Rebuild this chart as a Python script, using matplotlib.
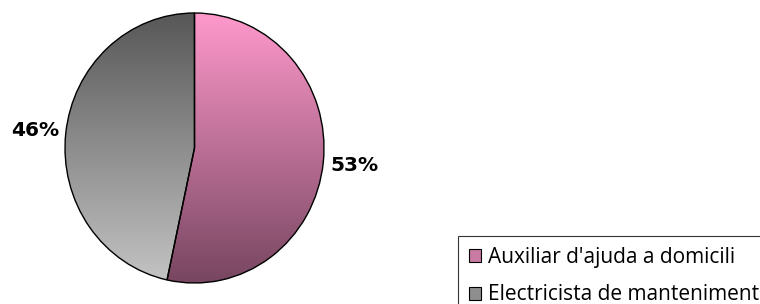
import numpy as np
import matplotlib
matplotlib.use("Agg")
import matplotlib.pyplot as plt
from matplotlib.patches import Patch
from matplotlib.colors import LinearSegmentedColormap

# data
categories = ["Auxiliar d'ajuda a domicili", "Electricista de manteniment"]
values = [53.4, 46.6]
pct_labels = ["53%", "46%"]

# vertical gradients (top colour, bottom colour)
gradients = [("#ff99cc", "#774660"), ("#575757", "#c4c4c4")]
legend_colors = ["#c97aa2", "#8e8e8e"]

W, H = 760, 304
fig = plt.figure(figsize=(W / 100, H / 100), dpi=100)
fig.patch.set_facecolor("white")

# pie box in pixels: x 65..324, y 13..283
ax = fig.add_axes([65 / W, 1 - 283 / H, 259 / W, 270 / H])

wedges, texts = ax.pie(values, startangle=90, counterclock=False,
                       wedgeprops=dict(edgecolor="black", linewidth=1.0, facecolor="none"),
                       labeldistance=None)
ax.set_aspect("auto")
ax.set_xlim(-1, 1)
ax.set_ylim(-1, 1)
ax.axis("off")

grad = np.linspace(0, 1, 256).reshape(-1, 1)
for w, (top, bottom) in zip(wedges, gradients):
    cmap = LinearSegmentedColormap.from_list("g", [top, bottom])
    im = ax.imshow(grad, cmap=cmap, extent=(-1, 1, -1, 1), aspect="auto",
                   origin="upper", zorder=0.5)
    im.set_clip_path(w)
for w in wedges:
    w.set_zorder(2)

# percentage labels placed at wedge mid angles
theta = 90.0
total = sum(values)
for v, lab in zip(values, pct_labels):
    mid = np.deg2rad(theta - 360 * v / total / 2)
    theta -= 360 * v / total
    ax.text(1.24 * np.cos(mid), 1.24 * np.sin(mid), lab, ha="center", va="center",
            fontsize=14.5, fontweight="bold", family="DejaVu Sans", clip_on=False)

handles = [Patch(facecolor=c, edgecolor="black", linewidth=0.8) for c in legend_colors]
leg = fig.legend(handles, categories, loc="upper left",
                 bbox_to_anchor=(458 / W, 1 - 236 / H),
                 frameon=True, fancybox=False, edgecolor="black",
                 prop=dict(family="Open Sans", size=15),
                 handlelength=0.6, handleheight=0.6, handletextpad=0.3,
                 borderpad=0.52, labelspacing=0.8, borderaxespad=0)
leg.get_frame().set_linewidth(0.8)

fig.savefig("out.png", dpi=100)
